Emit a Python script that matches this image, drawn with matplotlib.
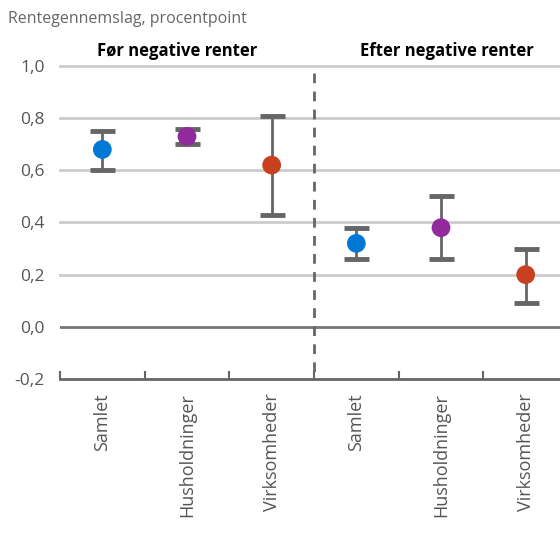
import matplotlib
matplotlib.use("Agg")
import matplotlib.pyplot as plt
import numpy as np

categories = ["Samlet", "Husholdninger", "Virksomheder", "Samlet", "Husholdninger", "Virksomheder"]
values = [0.68, 0.73, 0.62, 0.32, 0.38, 0.20]
upper = [0.75, 0.76, 0.81, 0.38, 0.50, 0.30]
lower = [0.60, 0.70, 0.43, 0.26, 0.26, 0.09]
colors = ["#0078D4", "#922A9E", "#C7401F", "#0078D4", "#922A9E", "#C7401F"]
yticks = [-0.2, 0.0, 0.2, 0.4, 0.6, 0.8, 1.0]
ytick_labels = ["-0,2", "0,0", "0,2", "0,4", "0,6", "0,8", "1,0"]
group_titles = ["Før negative renter", "Efter negative renter"]
ylabel = "Rentegennemslag, procentpoint"

plt.rcParams['font.family'] = ['Open Sans', 'DejaVu Sans']

W, H = 560, 538
fig = plt.figure(figsize=(W / 100, H / 100), dpi=100)
# axes from x=60 to 568 px, y from 66 (1.0) to 379 (-0.2)
ax = fig.add_axes([60 / W, 1 - 379 / H, 508 / W, (379 - 66) / H])
ax.set_xlim(-0.5, 5.5)
ax.set_ylim(-0.2, 1.0)

for y in yticks[2:]:
    ax.axhline(y, color="#cccccc", lw=2, zorder=1, clip_on=False)
ax.axhline(0.0, color="#757575", lw=2, zorder=1)

x = np.arange(len(categories))
vals = np.array(values)
yerr = np.array([vals - np.array(lower), np.array(upper) - vals])
ax.errorbar(x, vals, yerr=yerr, fmt="none", ecolor="#666666", elinewidth=2,
            capsize=9, capthick=3.5, zorder=2)
ax.scatter(x, vals, s=13.5 ** 2, c=colors, zorder=3, edgecolors="none")

ax.plot([2.5, 2.5], [0.975, -0.2], ls=(0, (3.5, 3.0)), color="#666666", lw=2, zorder=2, clip_on=False)

for s in ["top", "right", "left"]:
    ax.spines[s].set_visible(False)
ax.spines["bottom"].set_color("#666666")
ax.spines["bottom"].set_linewidth(2)

ax.set_xticks(np.arange(-0.5, 6.0, 1.0), minor=False)
ax.set_xticklabels([])
ax.tick_params(axis="x", which="major", direction="in", length=6, width=1.5, color="#666666")
ax.set_xticks(x, minor=True)
ax.set_xticklabels(categories, minor=True, rotation=90, fontsize=13, color="#555555")
ax.tick_params(axis="x", which="minor", length=0, pad=10)

ax.set_yticks(yticks)
ax.set_yticklabels(ytick_labels, fontsize=12.5, color="#555555")
ax.tick_params(axis="y", length=0, pad=11)

ax.text(0.88, 1.049, group_titles[0], ha="center", va="center", fontsize=12,
        fontweight="bold", color="black", transform=ax.get_xaxis_transform())
ax.text(4.07, 1.049, group_titles[1], ha="center", va="center", fontsize=12,
        fontweight="bold", color="black", transform=ax.get_xaxis_transform())

fig.text(8 / W, 1 - 19 / H, ylabel, ha="left", va="center", fontsize=11.5, color="#666666")

fig.savefig("out.png", dpi=100)
